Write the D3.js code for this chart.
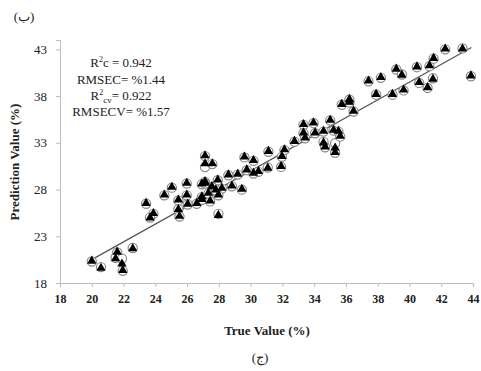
<!DOCTYPE html>
<html>
<head>
<meta charset="utf-8">
<script src="https://cdn.jsdelivr.net/npm/d3@7"></script>
<style>
  body { margin: 0; background: #fff; }
  text { font-family: "Liberation Serif", "Times New Roman", serif; fill: #222; }
</style>
</head>
<body>
<script>
// true values (x) and predicted values: calibration (triangles) and cross-validation (circles)
const trueVals = [
  20.0, 20.58, 21.6, 21.5, 21.9, 21.95, 22.58,
  23.42, 23.88, 23.67, 24.57, 25.04, 25.98, 25.45, 25.45, 25.52, 25.98, 26.04, 26.61, 26.93, 26.93,
  27.13, 27.13, 27.59, 29.61, 30.18, 29.76, 28.6, 29.19, 27.93, 27.13, 27.56, 28.19, 28.82, 29.45,
  30.18, 30.49, 26.93, 27.45, 27.34, 27.97, 27.81, 27.97, 27.13,
  31.12, 31.08, 31.92, 31.97, 32.13, 32.76, 33.33, 33.33, 33.43, 33.96, 34.06, 34.59,
  34.59, 34.69, 35.32, 35.32, 35.22, 35.53, 35.64, 35.01, 35.74, 36.22, 36.48, 36.22,
  37.42, 38.2, 37.9, 38.93, 39.17, 39.52, 39.63, 40.47, 40.61, 41.14, 41.26, 41.48, 41.52,
  42.25, 43.34, 43.87
];
const predCal = [
  20.3, 19.54, 21.27, 20.55, 20.0, 19.3, 21.63,
  26.48, 25.4, 24.93, 27.38, 28.2, 28.64, 26.84, 25.83, 25.11, 27.38, 26.4, 26.48, 27.19, 28.56,
  31.58, 30.72, 30.72, 31.44, 31.07, 30.07, 29.53, 29.6, 28.99, 28.81, 28.27, 28.1, 28.34, 27.99,
  29.71, 29.89, 26.91, 26.73, 27.56, 27.38, 27.91, 25.2, 28.64,
  32.04, 30.25, 30.42, 31.5, 32.22, 33.12, 34.92, 34.02, 33.49, 35.1, 34.02, 34.2,
  32.95, 32.52, 32.41, 31.93, 34.3, 34.2, 33.66, 35.38, 37.07, 37.32, 36.35, 37.61,
  39.58, 39.95, 38.15, 38.15, 40.84, 40.2, 38.61, 41.09, 39.41, 38.87, 41.2, 39.77, 42.0,
  43.0, 43.0, 40.12
];
const predCv = [
  20.3, 19.7, 21.27, 20.7, 20.6, 19.3, 21.75,
  26.48, 25.4, 25.0, 27.38, 28.2, 28.64, 26.84, 25.9, 25.11, 27.38, 26.4, 26.48, 27.19, 28.56,
  31.58, 30.4, 30.72, 31.44, 31.07, 30.07, 29.53, 29.6, 28.99, 28.81, 28.27, 28.1, 28.34, 27.99,
  29.71, 29.89, 26.91, 26.73, 27.56, 27.38, 27.91, 25.4, 28.64,
  32.04, 30.35, 30.42, 31.5, 32.22, 33.12, 34.92, 34.02, 33.49, 35.1, 34.02, 34.2,
  33.1, 32.52, 32.95, 31.93, 34.3, 34.2, 33.66, 35.38, 37.07, 37.32, 36.35, 37.61,
  39.58, 39.95, 38.15, 38.15, 40.84, 40.31, 38.61, 41.09, 39.41, 38.87, 41.2, 39.9, 42.0,
  43.0, 43.1, 40.12
];
const xTicks = [18, 20, 22, 24, 26, 28, 30, 32, 34, 36, 38, 40, 42, 44];
const yTicks = [18, 23, 28, 33, 38, 43];
const fitX = [20, 43.9];
const fitSlope = 0.95, fitIntercept = 1.5;
const statsLines = ["R2c", "RMSEC= %1.44", "R2cv", "RMSECV= %1.57"];

const width = 481, height = 371;
const margin = { top: 40, right: 8, bottom: 88, left: 60 };

const svg = d3.select('body').append('svg')
  .attr('width', width)
  .attr('height', height);

const x = d3.scaleLinear().domain([18, 44]).range([margin.left, width - margin.right]);
const y = d3.scaleLinear().domain([18, 44]).range([height - margin.bottom, margin.top]);

// axes
const xAxis = svg.append('g')
  .attr('transform', `translate(0,${y(18)})`)
  .call(d3.axisBottom(x).tickValues(xTicks).tickSize(4).tickPadding(7));
const yAxis = svg.append('g')
  .attr('transform', `translate(${x(18)},0)`)
  .call(d3.axisLeft(y).tickValues(yTicks).tickSize(4).tickPadding(9));

[xAxis, yAxis].forEach(function (g) {
  g.selectAll('path, line').attr('stroke', '#bdbdbd');
  g.selectAll('text').attr('font-family', '"Liberation Serif", serif')
    .attr('font-size', 13).attr('fill', '#333');
});
xAxis.selectAll('text').attr('font-weight', 'bold').attr('font-size', 12);

// regression line
svg.append('path')
  .datum(fitX)
  .attr('d', d3.line().x(d => x(d)).y(d => y(fitSlope * d + fitIntercept)))
  .attr('fill', 'none')
  .attr('stroke', '#555')
  .attr('stroke-width', 1.2);

const pts = trueVals.map((t, i) => ({ t: t, cal: predCal[i], cv: predCv[i] }));

// cross-validation circles
svg.append('g')
  .selectAll('circle')
  .data(pts)
  .enter().append('circle')
  .attr('cx', d => x(d.t))
  .attr('cy', d => y(d.cv))
  .attr('r', 4.6)
  .attr('fill', '#fff')
  .attr('stroke', '#8a8a8a')
  .attr('stroke-width', 1.2);

// calibration triangles
svg.append('g')
  .selectAll('path')
  .data(pts)
  .enter().append('path')
  .attr('transform', d => `translate(${x(d.t)},${y(d.cal) - 0.5})`)
  .attr('d', d3.symbol().type(d3.symbolTriangle).size(38))
  .attr('fill', '#000');

// statistics text
const stats = svg.append('g').attr('font-size', 13).attr('text-anchor', 'middle');
const s1 = stats.append('text').attr('x', 121).attr('y', 67);
s1.append('tspan').text('R');
s1.append('tspan').attr('font-size', 8).attr('dy', -5).text('2');
s1.append('tspan').attr('dy', 5).text('c = 0.942');
stats.append('text').attr('x', 121).attr('y', 84).text(statsLines[1]);
const s3 = stats.append('text').attr('x', 121).attr('y', 100);
s3.append('tspan').text('R');
s3.append('tspan').attr('font-size', 8).attr('dy', -5).text('2');
s3.append('tspan').attr('font-size', 9).attr('dy', 8).text('cv');
s3.append('tspan').attr('dy', -3).text('= 0.922');
stats.append('text').attr('x', 121).attr('y', 116).text(statsLines[3]);

// axis titles
svg.append('text')
  .attr('x', 267).attr('y', 335)
  .attr('text-anchor', 'middle')
  .attr('font-weight', 'bold').attr('font-size', 13)
  .text('True Value (%)');
svg.append('text')
  .attr('transform', 'translate(19,162) rotate(-90)')
  .attr('text-anchor', 'middle')
  .attr('font-weight', 'bold').attr('font-size', 13)
  .text('Prediction Value (%)');

// panel labels
svg.append('text')
  .attr('x', 24).attr('y', 21)
  .attr('text-anchor', 'middle').attr('font-size', 13).attr('fill', '#555')
  .text('(ب)');
svg.append('text')
  .attr('x', 260).attr('y', 362)
  .attr('text-anchor', 'middle').attr('font-size', 13).attr('fill', '#555')
  .text('(ج)');
</script>
</body>
</html>
